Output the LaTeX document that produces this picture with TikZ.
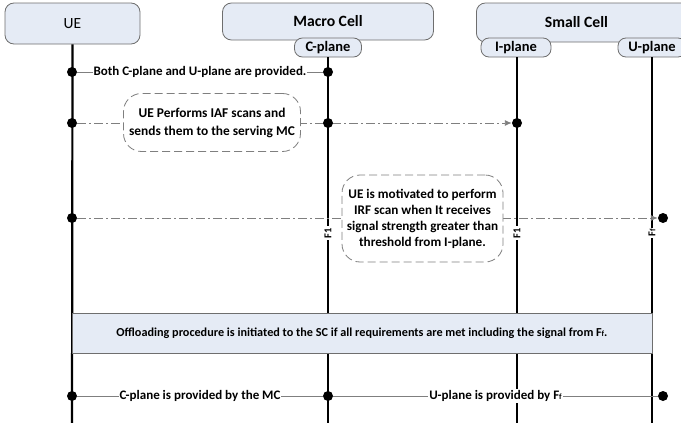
\documentclass[tikz,border=0pt]{standalone}
\usepackage{fontspec}
\setmainfont{Carlito}
\usetikzlibrary{arrows.meta}
\definecolor{boxfill}{HTML}{E5EBF5}
\definecolor{boxline}{HTML}{6E6E6E}
\definecolor{connc}{HTML}{7F7F7F}
\newcommand{\smallf}{{\fontsize{8}{9}\selectfont f}}
\begin{document}
\begin{tikzpicture}[x=1pt,y=-1pt,font=\bfseries,
  actor/.style={draw=boxline,fill=boxfill,rounded corners=9pt,line width=0.8pt,inner sep=0pt,font=\bfseries\fontsize{15.7}{17}\selectfont},
  pill/.style={draw=boxline,fill=boxfill,rounded corners=8pt,line width=0.8pt,inner sep=0pt,minimum height=19pt,font=\bfseries\fontsize{14.5}{16}\selectfont},
  life/.style={line width=2.2pt,black},
  dot/.style={circle,fill=black,inner sep=0pt,minimum size=10pt},
  conn/.style={draw=connc,line width=0.8pt},
  dashdot/.style={draw=connc,line width=0.9pt,dash pattern=on 9pt off 3pt on 2pt off 3pt},
  lbl/.style={fill=white,inner sep=1pt,font=\bfseries\fontsize{13}{15}\selectfont,text=black},
  cloudbox/.style={draw=connc,fill=white,dash pattern=on 8pt off 4pt,rounded corners=18pt,line width=0.8pt,align=center,inner sep=0pt},
  flabel/.style={fill=white,inner sep=1.5pt,rotate=90,font=\bfseries\fontsize{10.5}{12}\selectfont},
  tip/.style={-{Latex[length=7pt,width=6pt]}}
]
\useasboundingbox (0,0) rectangle (681,423);

% lifeline end points
\coordinate (ueb) at (72,430);
\coordinate (mcb) at (328,430);
\coordinate (ipb) at (517,430);
\coordinate (upb) at (652,430);

% actor boxes
\node[actor,minimum width=135pt,minimum height=41pt,font=\mdseries\fontsize{15.5}{17}\selectfont] (ue) at (72.5,23.5) {UE};
\node[actor,minimum width=211pt,minimum height=37pt] (mc) at (328,21.5) {Macro Cell};
\node[actor,minimum width=216pt,minimum height=39pt,anchor=west] (sc) at (476,22.5) {\hspace*{-16pt}Small Cell};
\node[pill,minimum width=67pt] (cp) at (328,47.5) {C-plane};
\node[pill,minimum width=70pt] (ip) at (516,47.5) {I-plane};
\node[pill,minimum width=68pt] (up) at (652,47.5) {U-plane};

% lifelines
\draw[life] (ue.south) -- (ueb);
\draw[life] (cp.south) -- (mcb);
\draw[life] (ip.south -| ipb) -- (ipb);
\draw[life] (up.south) -- (upb);

% row 1
\node[dot] (d1a) at (72,72) {};
\node[dot] (d1b) at (328,72) {};
\draw[conn] (d1a) -- (d1b) node[midway,lbl] {Both C-plane and U-plane are provided.};

% row 2
\node[dot] (d2a) at (72,123) {};
\node[dot] (d2c) at (517,123) {};
\draw[dashdot,tip] (d2a) -- (d2c);
\node[dot] (d2b) at (328,123) {};
\node[cloudbox,minimum width=177pt,minimum height=58pt,font=\bfseries\fontsize{13.4}{18}\selectfont] (c1) at (212,122.5) {UE Performs IAF scans and\\sends them to the serving MC};

% row 3
\node[dot] (d3a) at (72,218) {};
\node[dot] (d3b) at (663,218) {};
\draw[dashdot,tip] (d3a) -- (d3b);
\node[cloudbox,minimum width=161pt,minimum height=87pt,font=\bfseries\fontsize{13.2}{16}\selectfont] (c2) at (422.5,218.5) {UE is motivated to perform\\IRF scan when It receives\\signal strength greater than\\threshold from I-plane.};
\node[flabel] (f1) at (328,233) {F1};
\node[flabel] (f2) at (517,233) {F1};
\node[flabel] (f3) at (652,233) {F\smallf};

% offloading box
\node[draw=boxline,fill=boxfill,line width=0.8pt,minimum width=580pt,minimum height=40pt,inner sep=0pt,font=\bfseries\fontsize{12.2}{14}\selectfont] (off) at (362,333) {Offloading procedure is initiated to the SC if all requirements are met including the signal from F\smallf.};

% row 4
\node[dot] (d4a) at (72,396) {};
\node[dot] (d4b) at (328,396) {};
\node[dot] (d4c) at (663,396) {};
\draw[conn] (d4a) -- (d4b) node[midway,lbl] {C-plane is provided by the MC};
\draw[conn] (d4b) -- (d4c) node[midway,lbl] {U-plane is provided by F\smallf};
\end{tikzpicture}
\end{document}
